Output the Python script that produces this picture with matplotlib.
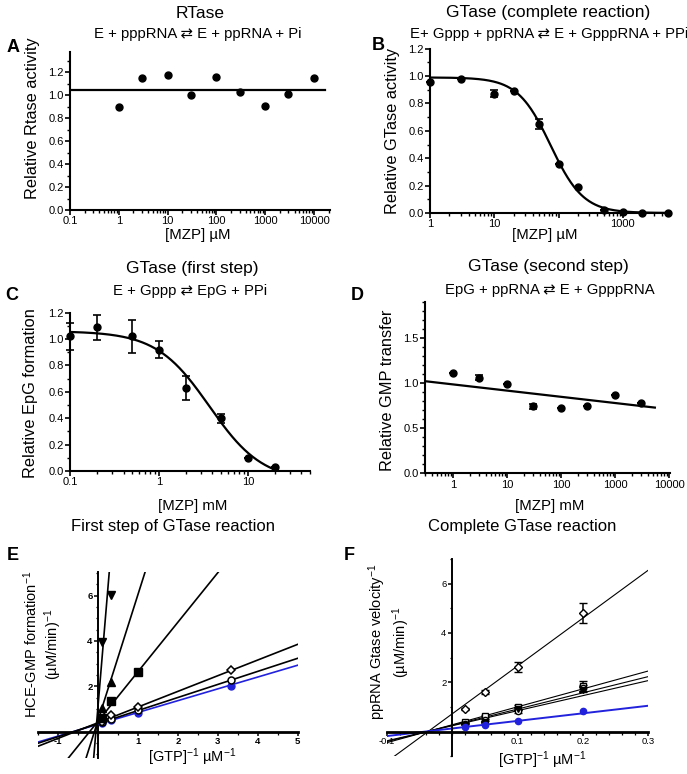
import numpy as np
import matplotlib
matplotlib.use("Agg")
import matplotlib.pyplot as plt
from matplotlib.ticker import MultipleLocator, FixedLocator, NullFormatter, FuncFormatter, LogLocator

plt.rcParams['font.family'] = ['Liberation Sans', 'DejaVu Sans']
plt.rcParams['mathtext.fontset'] = 'custom'
plt.rcParams['mathtext.rm'] = 'Liberation Sans'
plt.rcParams['mathtext.it'] = 'Liberation Sans:italic'
plt.rcParams['mathtext.bf'] = 'Liberation Sans:bold'

# ---------------- data ----------------
A_x = [1, 3, 10, 30, 100, 300, 1000, 3000, 10000]
A_y = [0.90, 1.15, 1.18, 1.00, 1.16, 1.03, 0.91, 1.01, 1.15]
A_fit_level = 1.05
A_fit_range = [0.1, 16800]

B_x = [1, 3, 10, 20, 50, 100, 200, 500, 1000, 2000, 5000]
B_y = [0.96, 0.98, 0.87, 0.89, 0.65, 0.36, 0.19, 0.02, 0.01, 0.0, 0.0]
B_err = [0, 0, 0.025, 0, 0.035, 0, 0, 0, 0, 0, 0]
B_fit = dict(top=0.99, bottom=0.0, ic50=75.0, hill=1.7)

C_x = [0.1, 0.2, 0.5, 1, 2, 5, 10, 20]
C_y = [1.02, 1.09, 1.02, 0.92, 0.63, 0.40, 0.10, 0.03]
C_err = [0.105, 0.095, 0.125, 0.065, 0.09, 0.035, 0, 0]
C_fit = dict(top=1.06, bottom=-0.08, ic50=3.7, hill=1.45)

D_x = [1, 3, 10, 30, 100, 300, 1000, 3000]
D_y = [1.11, 1.06, 0.99, 0.74, 0.72, 0.74, 0.87, 0.78]
D_err = [0, 0.025, 0, 0.025, 0, 0, 0, 0]
D_fit = dict(intercept=0.984, slope=-0.0687)   # y = a + b*log10(x)
D_fit_range = [0.3, 5400]

E_x = [0.1, 0.333, 1, 3.33]
E_blue = [0.38, 0.50, 0.82, 2.03]
E_circle = [0.42, 0.58, 0.97, 2.27]
E_diamond = [0.45, 0.72, 1.08, 2.72]
E_square = [0.62, 1.35, 2.65]
E_tri_up = [1.05, 2.20]
E_tri_down = [3.97, 6.04]
# Lineweaver-Burk fits: (intercept, slope)
E_fits = {'blue': (0.33, 0.52), 'circle': (0.36, 0.575), 'diamond': (0.40, 0.69),
          'square': (0.47, 2.18), 'tri_up': (0.52, 5.54), 'tri_down': (1.2, 21.0)}

F_x = [0.02, 0.05, 0.1, 0.2]
F_diamond = [0.92, 1.62, 2.62, 4.82]
F_diamond_err = [0.03, 0.08, 0.2, 0.4]
F_square = [0.38, 0.62, 0.98, 1.85]
F_square_err = [0.03, 0.04, 0.1, 0.2]
F_circle = [0.32, 0.48, 0.82, 1.75]
F_circle_err = [0.02, 0.03, 0.06, 0.15]
F_tri_down = [0.28, 0.38, 0.90, 1.70]
F_tri_down_err = [0.02, 0.03, 0.05, 0.1]
F_blue = [0.18, 0.28, 0.45, 0.82]
F_fits = {'diamond': (0.72, 19.4), 'c1': (0.28, 7.26), 'c2': (0.257, 6.58),
          'c3': (0.24, 6.1), 'blue': (0.13, 3.07)}

BLUE = '#2222dd'

# ---------------- layout ----------------
W, H = 687, 774
fig = plt.figure(figsize=(W / 100, H / 100), dpi=100)


def add_ax(l, t, r, b):
    return fig.add_axes([l / W, 1 - b / H, (r - l) / W, (b - t) / H])


def ftext(x, y, s, **kw):
    fig.text(x / W, 1 - y / H, s, **kw)


def logistic(x, top, bottom, ic50, hill):
    x = np.asarray(x, float)
    return bottom + (top - bottom) / (1 + (x / ic50) ** hill)


def style_dose(ax, ymaj, ymin):
    for s in ['top', 'right']:
        ax.spines[s].set_visible(False)
    for s in ['left', 'bottom']:
        ax.spines[s].set_linewidth(1.5)
    ax.set_xscale('log')
    ax.yaxis.set_major_locator(MultipleLocator(ymaj))
    ax.yaxis.set_minor_locator(MultipleLocator(ymin))
    ax.yaxis.set_major_formatter(FuncFormatter(lambda v, p: '%.1f' % v))
    ax.xaxis.set_minor_locator(LogLocator(base=10, subs=np.arange(2, 10)))
    ax.xaxis.set_minor_formatter(NullFormatter())
    ax.tick_params(which='major', direction='out', length=3.5, width=1.2, labelsize=8, pad=1)
    ax.tick_params(which='minor', direction='out', length=2.0, width=1.0)


title_fs = 12.5
sub_fs = 10.7
ylab_fs = 11.8
xlab_fs = 10.8
letter_fs = 13

# ---------- A ----------
axA = add_ax(70, 51.7, 330, 210)
style_dose(axA, 0.2, 0.1)
axA.set_xlim(0.1, 21300)
axA.set_ylim(0, 1.38)
axA.xaxis.set_major_locator(FixedLocator([0.1, 1, 10, 100, 1000, 10000]))
axA.xaxis.set_major_formatter(FuncFormatter(lambda v, p: '%g' % v))
axA.plot(A_fit_range, [A_fit_level, A_fit_level], color='black', lw=1.6)
axA.plot(A_x, A_y, 'o', color='black', ms=5, clip_on=False)
ftext(200, 13, 'RTase', ha='center', va='center', fontsize=title_fs)
ftext(198, 34, 'E + pppRNA ⇄ E + ppRNA + Pi', ha='center', va='center', fontsize=sub_fs)
ftext(13, 47, 'A', ha='center', va='center', fontsize=letter_fs, fontweight='bold')
ftext(33, 118, 'Relative Rtase activity', ha='center', va='center', rotation=90, fontsize=ylab_fs)
ftext(198, 235, '[MZP] µM', ha='center', va='center', fontsize=xlab_fs)

# ---------- B ----------
axB = add_ax(430, 48.7, 670, 213)
style_dose(axB, 0.2, 0.1)
axB.set_xlim(1, 5400)
axB.set_ylim(0, 1.2)
axB.xaxis.set_major_locator(FixedLocator([1, 10, 100, 1000]))
axB.xaxis.set_major_formatter(FuncFormatter(lambda v, p: '' if v == 100 else '%g' % v))
xb = np.logspace(0, np.log10(5000), 300)
axB.plot(xb, logistic(xb, **B_fit), color='black', lw=1.6)
axB.errorbar(B_x, B_y, yerr=B_err, fmt='o', color='black', ms=5, capsize=3, elinewidth=1.2,
             capthick=1.2, clip_on=False)
ftext(548, 13, 'GTase (complete reaction)', ha='center', va='center', fontsize=title_fs)
ftext(549, 34, 'E+ Gppp + ppRNA ⇄ E + GpppRNA + PPi', ha='center', va='center', fontsize=sub_fs)
ftext(378, 46, 'B', ha='center', va='center', fontsize=letter_fs, fontweight='bold')
ftext(392, 131, 'Relative GTase activity', ha='center', va='center', rotation=90, fontsize=ylab_fs)
ftext(545, 235, '[MZP] µM', ha='center', va='center', fontsize=xlab_fs)

# ---------- C ----------
axC = add_ax(70, 312.7, 310, 471)
style_dose(axC, 0.2, 0.1)
axC.set_xlim(0.1, 50)
axC.set_ylim(0, 1.2)
axC.xaxis.set_major_locator(FixedLocator([0.1, 1, 10]))
axC.xaxis.set_major_formatter(FuncFormatter(lambda v, p: '%g' % v))
xc = np.logspace(-1, np.log10(20), 300)
axC.plot(xc, logistic(xc, **C_fit), color='black', lw=1.6)
axC.errorbar(C_x, C_y, yerr=C_err, fmt='o', color='black', ms=5, capsize=3, elinewidth=1.2,
             capthick=1.2, clip_on=False)
ftext(192, 268, 'GTase (first step)', ha='center', va='center', fontsize=title_fs)
ftext(190, 291, 'E + Gppp ⇄ EpG + PPi', ha='center', va='center', fontsize=sub_fs)
ftext(12, 296, 'C', ha='center', va='center', fontsize=letter_fs, fontweight='bold')
ftext(31, 393, 'Relative EpG formation', ha='center', va='center', rotation=90, fontsize=ylab_fs)
ftext(193, 506, '[MZP] mM', ha='center', va='center', fontsize=xlab_fs)

# ---------- D ----------
axD = add_ax(425, 301.7, 670, 473.3)
style_dose(axD, 0.5, 0.1)
axD.set_xlim(0.3, 10300)
axD.set_ylim(0, 1.9)
axD.xaxis.set_major_locator(FixedLocator([1, 10, 100, 1000, 10000]))
axD.xaxis.set_major_formatter(FuncFormatter(lambda v, p: '%g' % v))
xd = np.logspace(np.log10(D_fit_range[0]), np.log10(D_fit_range[1]), 100)
axD.plot(xd, D_fit['intercept'] + D_fit['slope'] * np.log10(xd), color='black', lw=1.6)
axD.errorbar(D_x, D_y, yerr=D_err, fmt='o', color='black', ms=5, capsize=3, elinewidth=1.2,
             capthick=1.2, clip_on=False)
ftext(548, 266, 'GTase (second step)', ha='center', va='center', fontsize=title_fs)
ftext(550, 290, 'EpG + ppRNA ⇄ E + GpppRNA', ha='center', va='center', fontsize=sub_fs)
ftext(357, 296, 'D', ha='center', va='center', fontsize=letter_fs, fontweight='bold')
ftext(387, 390, 'Relative GMP transfer', ha='center', va='center', rotation=90, fontsize=ylab_fs)
ftext(550, 506, '[MZP] mM', ha='center', va='center', fontsize=xlab_fs)


def style_lb(ax, bold):
    ax.spines['top'].set_visible(False)
    ax.spines['right'].set_visible(False)
    ax.spines['left'].set_position(('data', 0))
    ax.spines['bottom'].set_position(('data', 0))
    ax.spines['left'].set_linewidth(1.4)
    ax.spines['bottom'].set_linewidth(2.0)
    ax.tick_params(which='major', direction='out', length=3, width=1.1, labelsize=6.8, pad=1)
    ax.tick_params(which='minor', direction='out', length=1.8, width=0.9)
    if bold:
        for lab in ax.get_xticklabels() + ax.get_yticklabels():
            lab.set_fontweight('bold')


# ---------- E ----------
axE = add_ax(38.3, 571.7, 297.7, 758.3)
axE.set_xlim(-1.5, 5)
axE.set_ylim(-1.17, 7.05)
xe = np.array([-1.5, 5.0])
for key, col in [('blue', BLUE), ('circle', 'black'), ('diamond', 'black'),
                 ('square', 'black'), ('tri_up', 'black'), ('tri_down', 'black')]:
    a, b = E_fits[key]
    axE.plot(xe, a + b * xe, color=col, lw=1.2, zorder=2)
axE.plot(E_x, E_blue, 'o', color=BLUE, ms=5, zorder=4)
axE.plot(E_x, E_circle, 'o', mfc='white', mec='black', mew=1.1, ms=5, zorder=4)
axE.plot(E_x, E_diamond, 'D', mfc='white', mec='black', mew=1.1, ms=4.5, zorder=4)
axE.plot(E_x[:3], E_square, 's', color='black', ms=5.5, zorder=4)
axE.plot(E_x[:2], E_tri_up, '^', color='black', ms=5.5, zorder=4)
axE.plot(E_x[:2], E_tri_down, 'v', color='black', ms=5.5, zorder=4)
axE.xaxis.set_major_locator(FixedLocator([-1, 1, 2, 3, 4, 5]))
axE.xaxis.set_minor_locator(MultipleLocator(0.5))
axE.yaxis.set_major_locator(FixedLocator([2, 4, 6]))
axE.yaxis.set_minor_locator(MultipleLocator(0.5))
axE.xaxis.set_major_formatter(FuncFormatter(lambda v, p: '%d' % v))
axE.yaxis.set_major_formatter(FuncFormatter(lambda v, p: '%d' % v))
style_lb(axE, True)
ftext(173, 527, 'First step of GTase reaction', ha='center', va='center', fontsize=12)
ftext(13, 556, 'E', ha='center', va='center', fontsize=letter_fs, fontweight='bold')
ftext(43, 644, 'HCE-GMP formation$^{-1}$\n(µM/min)$^{-1}$', ha='center', va='center',
      rotation=90, fontsize=10.5, multialignment='center', linespacing=1.15)
ftext(192, 757, '[GTP]$^{-1}$ µM$^{-1}$', ha='center', va='center', fontsize=10.5)

# ---------- F ----------
axF = add_ax(386.7, 558.8, 648.3, 756.4)
axF.set_xlim(-0.1, 0.3)
axF.set_ylim(-1.0, 7.0)
xf = np.array([-0.1, 0.3])
for key in ['diamond', 'c1', 'c2', 'c3']:
    a, b = F_fits[key]
    axF.plot(xf, a + b * xf, color='black', lw=0.8, zorder=2)
a, b = F_fits['blue']
axF.plot(xf, a + b * xf, color=BLUE, lw=1.4, zorder=2)
ekw = dict(capsize=3, elinewidth=1.1, capthick=1.1, zorder=4, ecolor='black')
axF.errorbar(F_x, F_diamond, yerr=F_diamond_err, fmt='D', mfc='white', mec='black', mew=1.0, ms=4, **ekw)
axF.errorbar(F_x, F_square, yerr=F_square_err, fmt='s', mfc='white', mec='black', mew=1.0, ms=4.5, **ekw)
axF.errorbar(F_x, F_circle, yerr=F_circle_err, fmt='o', mfc='white', mec='black', mew=1.0, ms=4.5, **ekw)
axF.errorbar(F_x, F_tri_down, yerr=F_tri_down_err, fmt='v', color='black', ms=4.5, **ekw)
axF.plot(F_x, F_blue, 'o', color=BLUE, ms=4.5, zorder=5)
axF.xaxis.set_major_locator(FixedLocator([-0.1, 0.1, 0.2, 0.3]))
axF.xaxis.set_minor_locator(MultipleLocator(0.02))
axF.yaxis.set_major_locator(FixedLocator([2, 4, 6]))
axF.yaxis.set_minor_locator(MultipleLocator(1))
axF.xaxis.set_major_formatter(FuncFormatter(lambda v, p: '%.1f' % v))
axF.yaxis.set_major_formatter(FuncFormatter(lambda v, p: '%d' % v))
style_lb(axF, False)
ftext(522, 527, 'Complete GTase reaction', ha='center', va='center', fontsize=12)
ftext(349, 556, 'F', ha='center', va='center', fontsize=letter_fs, fontweight='bold')
ftext(389, 642, 'ppRNA Gtase velocity$^{-1}$\n(µM/min)$^{-1}$', ha='center', va='center',
      rotation=90, fontsize=10.5, multialignment='center', linespacing=1.15)
ftext(542, 760, '[GTP]$^{-1}$ µM$^{-1}$', ha='center', va='center', fontsize=10.5)

fig.savefig('out.png', dpi=100)
